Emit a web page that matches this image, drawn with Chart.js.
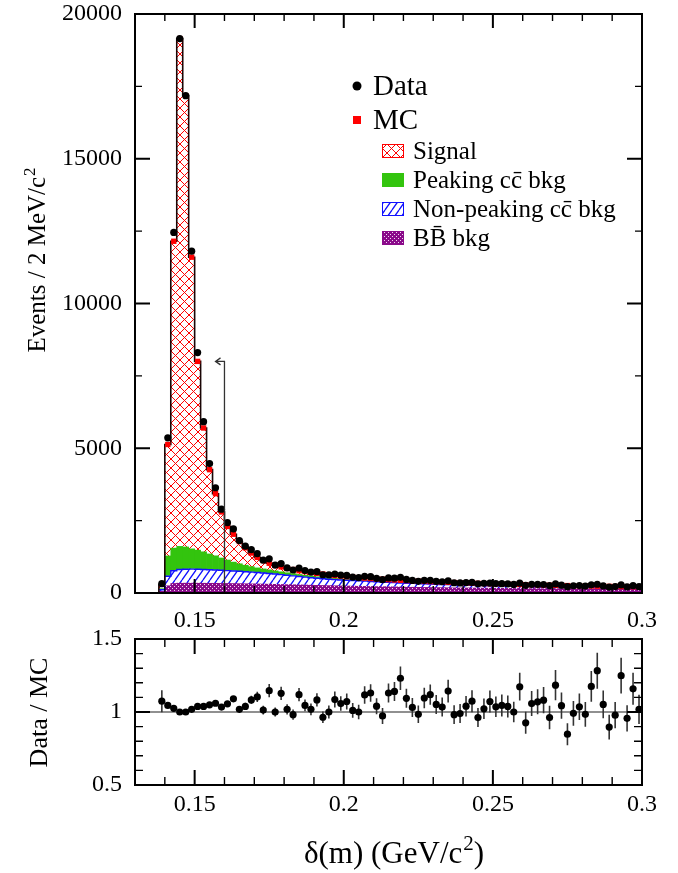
<!DOCTYPE html>
<html>
<head>
<meta charset="utf-8">
<script src="https://cdn.jsdelivr.net/npm/chart.js@4.4.1/dist/chart.umd.min.js"></script>
<style>
  html, body { margin: 0; padding: 0; background: #fff; }
  #wrap { position: relative; width: 678px; height: 873px; overflow: hidden; }
  .pane { position: absolute; left: 0; width: 678px; }
  #topPane { top: 0; height: 640px; }
  #botPane { top: 630px; height: 243px; }
</style>
</head>
<body>
<div id="wrap">
  <div class="pane" id="topPane"><canvas id="mainChart"></canvas></div>
  <div class="pane" id="botPane"><canvas id="ratioChart"></canvas></div>
</div>
<script>
// delta(m) distribution, data vs stacked MC, with Data/MC ratio below
const binWidth = 0.002;
const binCenters = [
  0.139,0.141,0.143,0.145,0.147,0.149,0.151,0.153,0.155,0.157,
  0.159,0.161,0.163,0.165,0.167,0.169,0.171,0.173,0.175,0.177,
  0.179,0.181,0.183,0.185,0.187,0.189,0.191,0.193,0.195,0.197,
  0.199,0.201,0.203,0.205,0.207,0.209,0.211,0.213,0.215,0.217,
  0.219,0.221,0.223,0.225,0.227,0.229,0.231,0.233,0.235,0.237,
  0.239,0.241,0.243,0.245,0.247,0.249,0.251,0.253,0.255,0.257,
  0.259,0.261,0.263,0.265,0.267,0.269,0.271,0.273,0.275,0.277,
  0.279,0.281,0.283,0.285,0.287,0.289,0.291,0.293,0.295,0.297,
  0.299
];
const dataCounts = [
  322,5361,12454,19150,17180,11809,8304,5917,4469,3636,
  2895,2429,2213,1812,1619,1495,1357,1135,1180,960,
  1015,865,795,862,773,723,736,631,630,656,
  619,606,551,530,575,565,506,462,522,513,
  542,470,433,403,438,439,404,389,421,354,
  349,360,364,319,333,343,325,322,313,297,
  343,266,298,296,294,258,313,271,217,250,
  257,240,282,303,244,205,221,279,211,252,
  218
];
const mcTotal = [
  300,5130,12150,19150,17180,11600,8000,5700,4260,3430,
  2800,2300,2030,1780,1560,1380,1230,1120,1030,960,
  900,850,810,770,740,710,680,655,630,605,
  585,565,545,530,515,500,487,475,462,450,
  440,430,420,410,400,392,384,376,368,360,
  353,346,339,332,326,320,314,308,302,297,
  292,287,282,277,272,268,264,260,256,252,
  248,244,240,236,232,229,226,223,220,217,
  214
];
const sigCounts = [
  150,3850,10600,17540,15590,10075,6520,4277,2911,2146,
  1591,1161,963,771,600,469,363,289,231,195,
  167,150,140,130,128,124,118,115,110,103,
  99,93,86,83,80,77,76,76,73,71,
  78,76,74,72,70,70,69,69,68,68,
  67,66,64,62,62,61,60,59,57,56,
  55,55,54,53,51,50,50,49,48,47,
  46,45,43,41,39,38,37,37,36,35,
  34
];
const peakCounts = [
  40,700,780,800,770,700,660,610,545,490,
  425,365,305,260,225,190,160,140,125,110,
  98,88,80,72,65,58,52,47,43,39,
  36,33,30,28,26,24,22,20,19,18,
  17,16,15,14,13,12,12,11,11,10,
  10,9,9,9,8,8,8,7,7,7,
  7,6,6,6,6,6,5,5,5,5,
  5,4,4,4,4,4,4,3,3,3,
  3
];
const nonPeakCounts = [
  50,330,440,470,480,485,480,475,468,460,
  452,444,435,425,415,405,395,383,370,355,
  340,322,305,288,272,258,245,233,222,213,
  205,198,192,186,180,174,168,162,157,152,
  140,136,132,128,124,120,116,112,108,104,
  100,97,94,91,88,85,82,80,78,76,
  74,72,70,68,66,64,62,60,58,56,
  54,53,52,51,50,49,48,47,46,45,
  44
];
const bbCounts = [
  60,250,330,340,340,340,340,338,336,334,
  332,330,327,324,320,316,312,308,304,300,
  295,290,285,280,275,270,265,260,255,250,
  245,241,237,233,229,225,221,217,213,209,
  205,202,199,196,193,190,187,184,181,178,
  176,174,172,170,168,166,164,162,160,158,
  156,154,152,150,149,148,147,146,145,144,
  143,142,141,140,139,138,137,136,135,134,
  133
];
const ratioVals = [
  1.074,1.045,1.025,1.000,1.000,1.018,1.038,1.038,1.049,1.060,
  1.034,1.056,1.090,1.018,1.038,1.083,1.103,1.013,1.146,1.000,
  1.128,1.018,0.982,1.119,1.045,1.018,1.083,0.964,1.000,1.085,
  1.058,1.072,1.011,1.000,1.117,1.130,1.040,0.973,1.130,1.141,
  1.231,1.094,1.031,0.984,1.096,1.119,1.052,1.034,1.143,0.982,
  0.989,1.040,1.074,0.962,1.022,1.072,1.036,1.045,1.038,1.000,
  1.173,0.926,1.058,1.070,1.081,0.962,1.184,1.043,0.848,0.991,
  1.036,0.984,1.175,1.283,1.052,0.897,0.978,1.249,0.957,1.159,
  1.018
];
const ratioErrs = [
  0.075,0.008,0.006,0.005,0.005,0.006,0.008,0.010,0.012,0.014,
  0.016,0.018,0.020,0.022,0.025,0.028,0.035,0.030,0.045,0.030,
  0.045,0.035,0.035,0.045,0.040,0.040,0.045,0.040,0.045,0.055,
  0.050,0.055,0.050,0.050,0.060,0.060,0.055,0.055,0.065,0.065,
  0.080,0.065,0.065,0.060,0.070,0.070,0.065,0.065,0.078,0.065,
  0.065,0.070,0.075,0.065,0.070,0.075,0.070,0.075,0.075,0.070,
  0.095,0.075,0.085,0.085,0.090,0.080,0.104,0.090,0.075,0.085,
  0.090,0.085,0.105,0.123,0.095,0.085,0.090,0.123,0.090,0.110,
  0.100
];

const xMajorTicks = [0.15, 0.2, 0.25, 0.3];
const xMinorTicks = [0.14, 0.16, 0.17, 0.18, 0.19, 0.21, 0.22, 0.23, 0.24, 0.26, 0.27, 0.28, 0.29];
const yMajorTicks = [0, 5000, 10000, 15000, 20000];
const yMinorTicks = [2500, 7500, 12500, 17500];
const rMajorTicks = [0.5, 1, 1.5];
const rMinorTicks = [0.6, 0.7, 0.8, 0.9, 1.1, 1.2, 1.3, 1.4];

// signal-window cut arrow (data coordinates)
const cutX = 0.16;
const cutTop = 8000;
const cutTip = 0.157;

const legendLabels = ['Signal', 'Peaking c\u0063\u0304 bkg', 'Non-peaking c\u0063\u0304 bkg', 'B\u0042\u0304 bkg'];

Chart.defaults.font.family = "'Liberation Serif', 'Times New Roman', serif";
Chart.defaults.color = '#000';
Chart.defaults.animation = false;

//----- PATTERNS
function makePattern(w, h, draw){
  const c = document.createElement('canvas');
  c.width = w; c.height = h;
  const g = c.getContext('2d');
  draw(g, w, h);
  return g.createPattern(c, 'repeat');
}
const sigPattern = makePattern(9, 9, (g, w, h) => {
  g.fillStyle = '#fff'; g.fillRect(0, 0, w, h);
  g.strokeStyle = '#ff0000'; g.lineWidth = 1;
  g.beginPath();
  g.moveTo(0, 0); g.lineTo(w, h);
  g.moveTo(w, 0); g.lineTo(0, h);
  g.stroke();
});
const nonPeakPattern = makePattern(7, 10, (g, w, h) => {
  g.fillStyle = '#fff'; g.fillRect(0, 0, w, h);
  g.strokeStyle = '#1010ff'; g.lineWidth = 1.3;
  g.beginPath();
  g.moveTo(0, h); g.lineTo(w, 0);
  g.moveTo(-w, h); g.lineTo(0, 0);
  g.moveTo(w, h); g.lineTo(2 * w, 0);
  g.stroke();
});
const bbPattern = makePattern(4, 4, (g) => {
  g.fillStyle = '#8a0a8a'; g.fillRect(0, 0, 4, 4);
  g.fillStyle = '#f0d8f0';
  g.fillRect(0, 0, 1, 1); g.fillRect(2, 2, 1, 1);
});
const peakColor = '#33c40e';

//----- HELPERS
function drawFrameTicks(chart, xs, ys, lens){
  const {ctx, chartArea: a, scales: {x, y}} = chart;
  ctx.save();
  ctx.strokeStyle = '#000';
  const tickX = (vals, len) => vals.forEach(v => {
    const px = x.getPixelForValue(v);
    ctx.moveTo(px, a.bottom); ctx.lineTo(px, a.bottom - len);
    ctx.moveTo(px, a.top); ctx.lineTo(px, a.top + len);
  });
  const tickY = (vals, len) => vals.forEach(v => {
    const py = y.getPixelForValue(v);
    ctx.moveTo(a.left, py); ctx.lineTo(a.left + len, py);
    ctx.moveTo(a.right, py); ctx.lineTo(a.right - len, py);
  });
  ctx.lineWidth = 1.4;
  ctx.beginPath();
  tickX(xs[1], lens.xMin);
  tickY(ys[1], lens.yMin);
  ctx.stroke();
  ctx.lineWidth = 2;
  ctx.beginPath();
  tickX(xs[0], lens.xMaj);
  tickY(ys[0], lens.yMaj);
  ctx.stroke();
  ctx.strokeRect(a.left, a.top, a.right - a.left, a.bottom - a.top);
  ctx.restore();
}

function stepOutline(chart, tops, color, width, toBase){
  const {ctx, chartArea: a, scales: {x, y}} = chart;
  const base = y.getPixelForValue(0);
  ctx.save();
  ctx.beginPath();
  ctx.rect(a.left, a.top, a.right - a.left, a.bottom - a.top);
  ctx.clip();
  ctx.strokeStyle = color;
  ctx.lineWidth = width;
  ctx.beginPath();
  binCenters.forEach((c, i) => {
    const xl = x.getPixelForValue(c - binWidth / 2);
    const xr = x.getPixelForValue(c + binWidth / 2);
    const py = y.getPixelForValue(tops[i]);
    if (i === 0) ctx.moveTo(xl, toBase ? base : py);
    ctx.lineTo(xl, py);
    ctx.lineTo(xr, py);
  });
  if (toBase) ctx.lineTo(x.getPixelForValue(binCenters[binCenters.length - 1] + binWidth / 2), base);
  ctx.stroke();
  ctx.restore();
}

// text with a raised "2" like ROOT's c^{2}; drawn centred at (cx, cy), optionally rotated
function supText(ctx, base, sup, tail, cx, cy, size, rotate){
  const mainFont = size + "px 'Liberation Serif'";
  const supFont = Math.round(size * 0.68) + "px 'Liberation Serif'";
  ctx.save();
  ctx.fillStyle = '#000';
  ctx.textBaseline = 'alphabetic';
  ctx.textAlign = 'left';
  ctx.font = mainFont;
  const w1 = ctx.measureText(base).width;
  const w3 = ctx.measureText(tail).width;
  ctx.font = supFont;
  const w2 = ctx.measureText(sup).width;
  const total = w1 + w2 + w3 + 1;
  ctx.translate(cx, cy);
  if (rotate) ctx.rotate(-Math.PI / 2);
  const x0 = -total / 2;
  const yb = size * 0.33;
  ctx.font = mainFont;
  ctx.fillText(base, x0, yb);
  ctx.font = supFont;
  ctx.fillText(sup, x0 + w1 + 1, yb - size * 0.42);
  ctx.font = mainFont;
  ctx.fillText(tail, x0 + w1 + w2 + 1, yb);
  ctx.restore();
}

const xTickCallback = v => String(+(+v).toFixed(2));
// keep the frame exactly where the reference has it
const noPadX = h => s => { s.height = h; s.paddingLeft = 0; s.paddingRight = 0; };
const noPadY = w => s => { s.width = w; s.paddingTop = 0; s.paddingBottom = 0; };

//----- TOP PANEL
const mainPlugin = {
  id: 'mainDecor',
  beforeDatasetDraw(chart, args){
    if (args.index !== 1) return;
    const blueTops = bbCounts.map((v, i) => v + nonPeakCounts[i]);
    stepOutline(chart, blueTops, '#1010ff', 1.4, false);
    stepOutline(chart, mcTotal, '#1a0505', 1.6, true);
  },
  afterDraw(chart){
    const {ctx, scales: {x, y}} = chart;
    // cut arrow
    const ax = x.getPixelForValue(cutX);
    const ay = y.getPixelForValue(cutTop);
    const tip = x.getPixelForValue(cutTip);
    ctx.save();
    ctx.strokeStyle = '#333';
    ctx.lineWidth = 1.3;
    ctx.beginPath();
    ctx.moveTo(ax, y.getPixelForValue(0));
    ctx.lineTo(ax, ay);
    ctx.lineTo(tip, ay);
    ctx.moveTo(tip + 5, ay - 3.5);
    ctx.lineTo(tip, ay);
    ctx.lineTo(tip + 5, ay + 3.5);
    ctx.stroke();
    ctx.restore();

    drawFrameTicks(chart, [xMajorTicks, xMinorTicks], [yMajorTicks, yMinorTicks],
      {xMaj: 14, xMin: 7, yMaj: 15, yMin: 7});

    supText(ctx, 'Events / 2 MeV/c', '2', '', 37, 260, 25, true);

    // legend
    ctx.save();
    ctx.textAlign = 'left';
    ctx.textBaseline = 'middle';
    ctx.fillStyle = '#000';
    ctx.beginPath();
    ctx.arc(357, 86, 4.5, 0, Math.PI * 2);
    ctx.fill();
    ctx.font = "29px 'Liberation Serif'";
    ctx.fillText('Data', 373, 87);
    ctx.fillStyle = '#ff0000';
    ctx.fillRect(353, 116, 8, 8);
    ctx.fillStyle = '#000';
    ctx.fillText('MC', 373, 121);

    const fills = [sigPattern, peakColor, nonPeakPattern, bbPattern];
    const strokes = ['#ff0000', peakColor, '#1010ff', '#8a0a8a'];
    const rows = [151, 180, 209, 238];
    ctx.font = "25px 'Liberation Serif'";
    legendLabels.forEach((lab, i) => {
      ctx.fillStyle = fills[i];
      ctx.fillRect(382, rows[i] - 7, 22, 14);
      ctx.strokeStyle = strokes[i];
      ctx.lineWidth = 1;
      ctx.strokeRect(382.5, rows[i] - 6.5, 21, 13);
      ctx.fillStyle = '#000';
      ctx.fillText(lab, 413, rows[i] + 1);
    });
    ctx.restore();
  }
};

const pts = arr => binCenters.map((c, i) => ({x: c, y: arr[i]}));
const barCommon = {grouped: false, barPercentage: 1, categoryPercentage: 1, borderWidth: 0, stack: 'mc'};

new Chart(document.getElementById('mainChart'), {
  type: 'bar',
  data: {
    datasets: [
      {type: 'line', label: 'Data', data: pts(dataCounts), showLine: false, pointRadius: 3.6,
       pointBackgroundColor: '#000', pointBorderWidth: 0, order: 0, stack: 'data'},
      {type: 'line', label: 'MC', data: pts(mcTotal), showLine: false, pointStyle: 'rect', pointRadius: 3.8,
       pointBackgroundColor: '#ff0000', pointBorderWidth: 0, order: 1, stack: 'mcpts'},
      Object.assign({label: 'BB bkg', data: pts(bbCounts), backgroundColor: bbPattern, order: 2}, barCommon),
      Object.assign({label: 'Non-peaking', data: pts(nonPeakCounts), backgroundColor: nonPeakPattern, order: 3}, barCommon),
      Object.assign({label: 'Peaking', data: pts(peakCounts), backgroundColor: peakColor, order: 4}, barCommon),
      Object.assign({label: 'Signal', data: pts(sigCounts), backgroundColor: sigPattern, order: 5}, barCommon)
    ]
  },
  options: {
    responsive: true,
    maintainAspectRatio: false,
    events: [],
    layout: {padding: {left: 0, right: 36, top: 14, bottom: 0}},
    plugins: {legend: {display: false}, tooltip: {enabled: false}},
    scales: {
      x: {
        type: 'linear', min: 0.13, max: 0.30, offset: false,
        grid: {display: false, drawTicks: false, offset: false}, border: {display: false},
        ticks: {padding: 13, font: {size: 24}, maxRotation: 0, autoSkip: false, callback: xTickCallback},
        afterBuildTicks: s => { s.ticks = xMajorTicks.map(v => ({value: v})); },
        afterFit: noPadX(47)
      },
      y: {
        type: 'linear', stacked: true, min: 0, max: 20000,
        grid: {display: false, drawTicks: false}, border: {display: false},
        ticks: {padding: 13, font: {size: 24}, callback: v => String(v)},
        afterBuildTicks: s => { s.ticks = yMajorTicks.map(v => ({value: v})); },
        afterFit: noPadY(135)
      }
    }
  },
  plugins: [mainPlugin]
});

//----- RATIO PANEL
const ratioPlugin = {
  id: 'ratioDecor',
  beforeDatasetsDraw(chart){
    const {ctx, chartArea: a, scales: {x, y}} = chart;
    ctx.save();
    ctx.beginPath();
    ctx.rect(a.left, a.top, a.right - a.left, a.bottom - a.top);
    ctx.clip();
    ctx.strokeStyle = '#222';
    ctx.lineWidth = 1.2;
    ctx.beginPath();
    ctx.moveTo(a.left, y.getPixelForValue(1));
    ctx.lineTo(a.right, y.getPixelForValue(1));
    ctx.stroke();
    ctx.strokeStyle = '#333';
    ctx.lineWidth = 1.6;
    ctx.beginPath();
    binCenters.forEach((c, i) => {
      const px = x.getPixelForValue(c);
      ctx.moveTo(px, y.getPixelForValue(ratioVals[i] - ratioErrs[i]));
      ctx.lineTo(px, y.getPixelForValue(ratioVals[i] + ratioErrs[i]));
    });
    ctx.stroke();
    ctx.restore();
  },
  afterDraw(chart){
    const {ctx} = chart;
    drawFrameTicks(chart, [xMajorTicks, xMinorTicks], [rMajorTicks, rMinorTicks],
      {xMaj: 15, xMin: 8, yMaj: 15, yMin: 8});
    supText(ctx, 'Data / MC', '', '', 38, 82, 26, true);
    supText(ctx, '\u03b4(m) (GeV/c', '2', ')', 394, 223, 31, false);
  }
};

new Chart(document.getElementById('ratioChart'), {
  type: 'scatter',
  data: {
    datasets: [
      {label: 'Data / MC', data: pts(ratioVals), pointRadius: 3.6, pointBackgroundColor: '#000', pointBorderWidth: 0}
    ]
  },
  options: {
    responsive: true,
    maintainAspectRatio: false,
    events: [],
    layout: {padding: {left: 0, right: 36, top: 9, bottom: 0}},
    plugins: {legend: {display: false}, tooltip: {enabled: false}},
    scales: {
      x: {
        type: 'linear', min: 0.13, max: 0.30, offset: false,
        grid: {display: false, drawTicks: false}, border: {display: false},
        ticks: {padding: 5, font: {size: 24}, maxRotation: 0, autoSkip: false, callback: xTickCallback},
        afterBuildTicks: s => { s.ticks = xMajorTicks.map(v => ({value: v})); },
        afterFit: noPadX(88)
      },
      y: {
        type: 'linear', min: 0.5, max: 1.5,
        grid: {display: false, drawTicks: false}, border: {display: false},
        ticks: {padding: 13, font: {size: 24}, callback: v => String(v)},
        afterBuildTicks: s => { s.ticks = rMajorTicks.map(v => ({value: v})); },
        afterFit: noPadY(135)
      }
    }
  },
  plugins: [ratioPlugin]
});
</script>
</body>
</html>
